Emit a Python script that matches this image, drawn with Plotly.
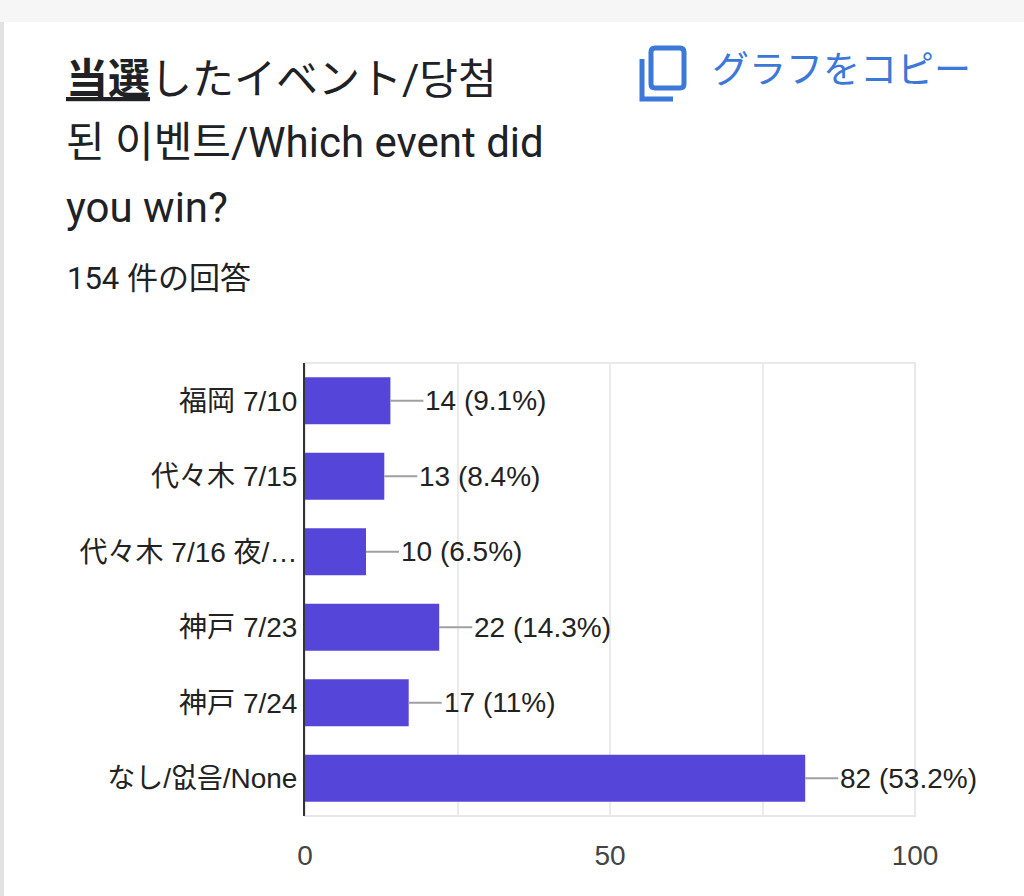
import plotly.graph_objects as go

# ---- data ----
categories = ["福岡 7/10", "代々木 7/15", "代々木 7/16 夜/…", "神戸 7/23", "神戸 7/24", "なし/없음/None"]
counts = [14, 13, 10, 22, 17, 82]
percent_labels = ["9.1%", "8.4%", "6.5%", "14.3%", "11%", "53.2%"]
tick_values = [0, 25, 50, 75, 100]
tick_labels = ["0", "", "50", "", "100"]
title_lines = ["<b><u>当選</u></b>したイベント/당첨", "된 이벤트/Which event did", "you win?"]
subtitle = "154 件の回答"
copy_label = "グラフをコピー"

# ---- layout geometry (pixels) ----
W, H = 1024, 896
L, R, T, B = 305, 915, 363, 816


def px(x):
    return (x - L) / (R - L)


def py(y):
    return (B - y) / (B - T)


BAR = "#5546d9"
TEXT = "#222222"
BLUE = "#3b78d8"
CHART_FONT = "Liberation Sans, Arial, Noto Sans CJK JP"
TITLE_FONT = "Roboto, Noto Sans CJK JP"

fig = go.Figure(
    go.Bar(
        x=counts,
        y=categories,
        orientation="h",
        marker=dict(color=BAR, line=dict(width=0)),
        hoverinfo="skip",
    )
)

annotations = []
for c, cat, p in zip(counts, categories, percent_labels):
    annotations.append(dict(
        x=c, y=cat, xref="x", yref="y",
        text=f"{c} ({p})",
        showarrow=True, arrowhead=0, arrowwidth=2, arrowcolor="#a0a0a0",
        ax=33, ay=0, standoff=0, startstandoff=0,
        xanchor="left", yanchor="middle",
        font=dict(family=CHART_FONT, size=28, color=TEXT),
    ))

title_y = [80, 143, 207]
for line, yy in zip(title_lines, title_y):
    annotations.append(dict(
        x=px(64), y=py(yy), xref="paper", yref="paper",
        text=line, showarrow=False, xanchor="left", yanchor="middle",
        font=dict(family=TITLE_FONT, size=42, color="#202124"),
    ))

annotations.append(dict(
    x=px(65), y=py(278), xref="paper", yref="paper",
    text=subtitle, showarrow=False, xanchor="left", yanchor="middle",
    font=dict(family=TITLE_FONT, size=31, color="#202124"),
))
annotations.append(dict(
    x=px(710), y=py(70), xref="paper", yref="paper",
    text=copy_label, showarrow=False, xanchor="left", yanchor="middle",
    font=dict(family=TITLE_FONT, size=37, color=BLUE),
))

shapes = [
    # top gray band
    dict(type="rect", xref="paper", yref="paper", x0=px(0), x1=px(W), y0=py(0), y1=py(22),
         fillcolor="#f6f6f6", line=dict(width=0), layer="below"),
    # left card edge
    dict(type="rect", xref="paper", yref="paper", x0=px(0), x1=px(4), y0=py(22), y1=py(H),
         fillcolor="#e3e3e3", line=dict(width=0), layer="below"),
    # plot frame (light)
    dict(type="rect", xref="paper", yref="paper", x0=0, x1=1, y0=0, y1=1,
         line=dict(color="#e8e8e8", width=2), layer="below"),
    # copy icon: front rounded rect
    dict(type="path", xref="paper", yref="paper",
         path=(f"M {px(655)},{py(48)} L {px(680)},{py(48)} Q {px(684)},{py(48)} {px(684)},{py(52)} "
               f"L {px(684)},{py(84)} Q {px(684)},{py(88)} {px(680)},{py(88)} "
               f"L {px(655)},{py(88)} Q {px(651)},{py(88)} {px(651)},{py(84)} "
               f"L {px(651)},{py(52)} Q {px(651)},{py(48)} {px(655)},{py(48)} Z"),
         line=dict(color=BLUE, width=5)),
    # copy icon: back L
    dict(type="path", xref="paper", yref="paper",
         path=f"M {px(642)},{py(59)} L {px(642)},{py(99)} L {px(673)},{py(99)}",
         line=dict(color=BLUE, width=5)),
]

fig.update_layout(
    width=W, height=H,
    margin=dict(l=L, r=W - R, t=T, b=H - B, pad=0),
    paper_bgcolor="white", plot_bgcolor="white",
    showlegend=False,
    bargap=0.38,
    xaxis=dict(
        range=[0, 100], tickvals=tick_values, ticktext=tick_labels,
        showgrid=True, gridcolor="#ebebeb", gridwidth=2,
        zeroline=False, showline=False, ticks="", ticklen=0,
        ticklabelstandoff=20,
        tickfont=dict(family=CHART_FONT, size=28, color="#444444"),
        fixedrange=True,
    ),
    yaxis=dict(
        autorange="reversed", showline=True, linecolor="#333333", linewidth=2,
        ticks="", showgrid=False, zeroline=False,
        ticklabelstandoff=0,
        tickfont=dict(family=CHART_FONT, size=28, color=TEXT),
        fixedrange=True,
    ),
    annotations=annotations,
    shapes=shapes,
)

fig.write_html(
    "out.html",
    config={"displayModeBar": False, "staticPlot": True},
    post_script="document.body.style.margin='0';document.body.style.overflow='hidden';",
)
